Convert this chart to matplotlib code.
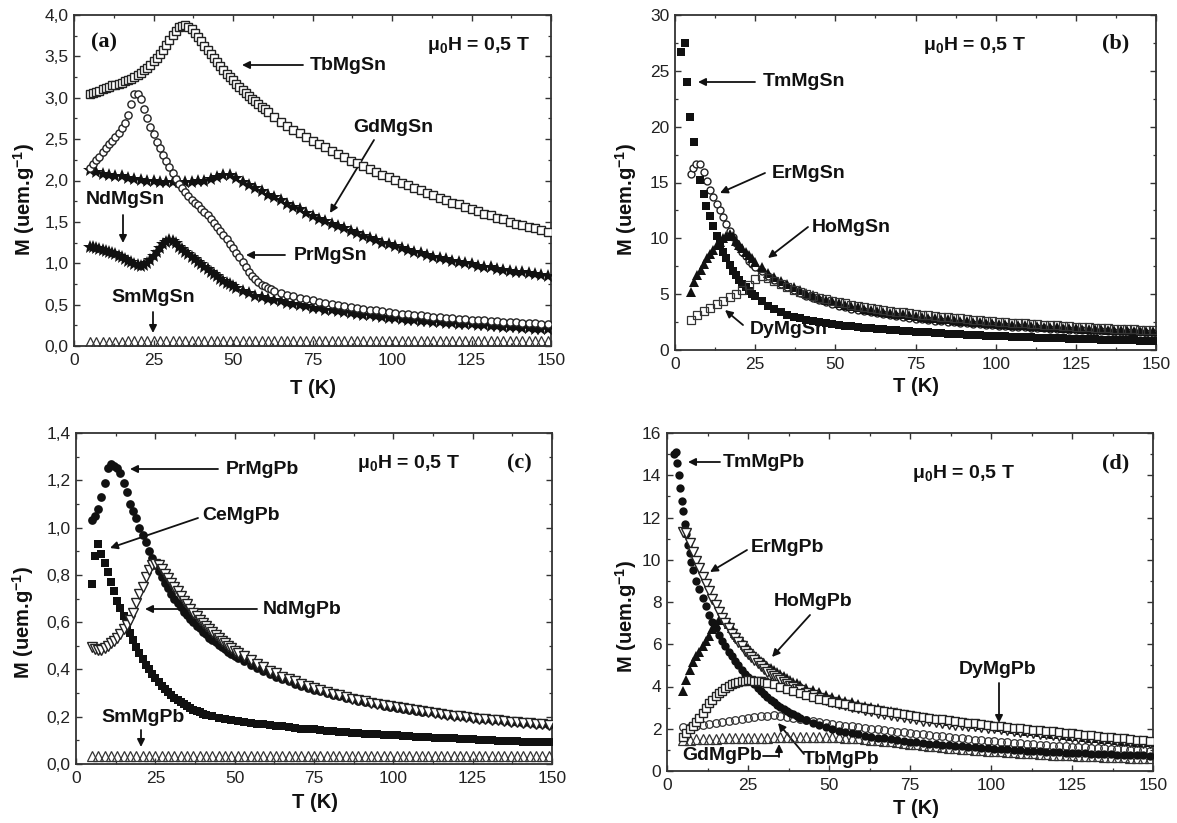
import sys
import numpy as np
import matplotlib
matplotlib.use("Agg")
import matplotlib.pyplot as plt
from matplotlib.ticker import MultipleLocator, FuncFormatter

plt.rcParams['font.family'] = ['Liberation Sans', 'DejaVu Sans']
plt.rcParams['mathtext.fontset'] = 'custom'
plt.rcParams['mathtext.rm'] = 'Liberation Sans:bold'
plt.rcParams['mathtext.it'] = 'Liberation Sans:bold'
plt.rcParams['mathtext.bf'] = 'Liberation Sans:bold'


def cat(*parts):
    return np.concatenate([np.asarray(p, dtype=float) for p in parts])

# ---------------- Panel (a): RMgSn ----------------
T_TB_A = cat(np.arange(5, 61), np.arange(61, 150, 2))
M_TB_A = [3.05, 3.06, 3.07, 3.08, 3.10, 3.12, 3.13, 3.15, 3.16, 3.17,
          3.18, 3.20, 3.21, 3.23, 3.25, 3.27, 3.30, 3.33, 3.36, 3.40,
          3.44, 3.48, 3.53, 3.58, 3.64, 3.70, 3.76, 3.81, 3.85, 3.87,
          3.88, 3.86, 3.83, 3.78, 3.73, 3.68, 3.63, 3.58, 3.53, 3.48,
          3.43, 3.38, 3.34, 3.29, 3.25, 3.21, 3.17, 3.13, 3.09, 3.06,
          3.02, 2.99, 2.96, 2.92, 2.89, 2.86,
          2.83, 2.77, 2.71, 2.66, 2.61, 2.57, 2.52, 2.48, 2.44, 2.40,
          2.36, 2.32, 2.28, 2.24, 2.21, 2.17, 2.14, 2.10, 2.07, 2.04,
          2.01, 1.97, 1.94, 1.91, 1.88, 1.85, 1.82, 1.79, 1.76, 1.73,
          1.71, 1.68, 1.65, 1.63, 1.60, 1.58, 1.55, 1.53, 1.50, 1.48,
          1.46, 1.44, 1.42, 1.40, 1.38]

T_PR_A = cat(np.arange(5, 63), np.arange(63, 150, 2))
M_PR_A = [2.15, 2.20, 2.25, 2.29, 2.34, 2.39, 2.44, 2.48, 2.53, 2.57,
          2.63, 2.70, 2.79, 2.92, 3.05, 3.05, 2.98, 2.87, 2.76, 2.65,
          2.56, 2.47, 2.39, 2.31, 2.23, 2.16, 2.09, 2.02, 1.96, 1.91,
          1.86, 1.81, 1.77, 1.73, 1.70, 1.66, 1.62, 1.58, 1.53, 1.49,
          1.44, 1.39, 1.34, 1.29, 1.23, 1.18, 1.12, 1.07, 1.01, 0.96,
          0.90, 0.85, 0.81, 0.77, 0.74, 0.72, 0.70, 0.685,
          0.67, 0.64, 0.62, 0.60, 0.58, 0.565, 0.55, 0.535, 0.52, 0.51,
          0.495, 0.485, 0.475, 0.46, 0.45, 0.44, 0.43, 0.42, 0.41, 0.40,
          0.39, 0.385, 0.375, 0.37, 0.36, 0.355, 0.35, 0.34, 0.335, 0.33,
          0.325, 0.32, 0.315, 0.31, 0.305, 0.30, 0.295, 0.29, 0.285, 0.28,
          0.28, 0.275, 0.27, 0.27]

T_GD_A = np.arange(5, 150, 2)
M_GD_A = [2.13, 2.10, 2.08, 2.07, 2.06, 2.05, 2.03, 2.02, 2.01, 2.00,
          1.99, 1.98, 1.98, 1.98, 1.98, 1.98, 1.98, 1.99, 2.00, 2.02,
          2.04, 2.07, 2.07, 2.03, 1.98, 1.95, 1.91, 1.87, 1.83, 1.80,
          1.76, 1.72, 1.68, 1.65, 1.61, 1.57, 1.54, 1.51, 1.48, 1.45,
          1.42, 1.39, 1.36, 1.33, 1.31, 1.28, 1.25, 1.23, 1.21, 1.18,
          1.16, 1.14, 1.12, 1.10, 1.08, 1.06, 1.05, 1.03, 1.01, 1.00,
          0.99, 0.97, 0.96, 0.95, 0.93, 0.92, 0.91, 0.90, 0.89, 0.88,
          0.87, 0.86, 0.85]

T_ND_A = cat(np.arange(5, 51), np.arange(51, 150, 2))
M_ND_A = [1.20, 1.20, 1.19, 1.17, 1.16, 1.15, 1.14, 1.12, 1.11, 1.09,
          1.07, 1.05, 1.03, 1.01, 0.99, 0.975, 0.97, 0.98, 1.00, 1.04,
          1.09, 1.14, 1.19, 1.23, 1.26, 1.28, 1.27, 1.24, 1.20, 1.17,
          1.14, 1.11, 1.08, 1.05, 1.02, 0.99, 0.955, 0.925, 0.895, 0.865,
          0.84, 0.815, 0.79, 0.765, 0.745, 0.72,
          0.70, 0.67, 0.64, 0.61, 0.59, 0.57, 0.555, 0.54, 0.525, 0.51,
          0.495, 0.48, 0.465, 0.455, 0.44, 0.43, 0.42, 0.41, 0.40, 0.39,
          0.38, 0.37, 0.36, 0.35, 0.34, 0.335, 0.33, 0.32, 0.31, 0.305,
          0.30, 0.29, 0.285, 0.28, 0.275, 0.27, 0.265, 0.26, 0.255, 0.25,
          0.245, 0.24, 0.235, 0.23, 0.225, 0.22, 0.215, 0.21, 0.205, 0.20]

T_SM_A = np.arange(5, 150, 2)
M_SM_A = [0.05, 0.05, 0.05, 0.05, 0.05, 0.05, 0.06, 0.06, 0.06, 0.06,
          0.065, 0.065, 0.06, 0.06, 0.06, 0.06,
          0.055, 0.055, 0.055, 0.055, 0.055, 0.055, 0.055, 0.055, 0.055, 0.055,
          0.055, 0.055, 0.055, 0.055, 0.055, 0.055, 0.055, 0.055, 0.055, 0.055,
          0.055, 0.055, 0.055, 0.055, 0.055, 0.055, 0.055, 0.055, 0.055, 0.055,
          0.055, 0.055, 0.055, 0.055, 0.055, 0.055, 0.055, 0.055, 0.055, 0.055,
          0.055, 0.055, 0.055, 0.055, 0.055, 0.055, 0.055, 0.055, 0.055, 0.055,
          0.055, 0.055, 0.055, 0.055, 0.055, 0.055, 0.055]

# ---------------- Panel (b): heavy RMgSn ----------------
T_TM_B = cat([2, 3, 3.7, 4.7, 5.8, 7.9, 8.9, 9.8, 10.9, 11.9],
             np.arange(13, 25), np.arange(25, 150, 2))
M_TM_B = [26.7, 27.5, 24.0, 20.9, 18.6, 15.2, 14.0, 12.9, 12.0, 11.1,
          10.2, 9.5, 8.8, 8.2, 7.6, 7.1, 6.7, 6.3, 5.9, 5.6, 5.3, 5.05,
          4.80, 4.38, 3.98, 3.65, 3.38, 3.16, 2.98, 2.83, 2.70, 2.59,
          2.48, 2.39, 2.31, 2.24, 2.17, 2.11, 2.05, 1.99, 1.94, 1.89,
          1.84, 1.80, 1.76, 1.72, 1.68, 1.64, 1.60, 1.57, 1.53, 1.50,
          1.47, 1.44, 1.41, 1.38, 1.35, 1.32, 1.29, 1.27, 1.24, 1.22,
          1.19, 1.17, 1.15, 1.13, 1.11, 1.09, 1.07, 1.05, 1.03, 1.01,
          1.00, 0.98, 0.96, 0.95, 0.93, 0.92, 0.90, 0.89, 0.87, 0.86,
          0.85, 0.84, 0.83]

T_ER_B = cat([5, 5.7, 6.5, 7.8, 8.9, 9.9, 10.9, 11.9],
             np.arange(13, 26), np.arange(27, 150, 2))
M_ER_B = [15.8, 16.3, 16.7, 16.7, 15.9, 15.1, 14.3, 13.7,
          13.1, 12.5, 11.9, 11.3, 10.7, 10.1, 9.6, 9.2, 8.8, 8.4, 8.0, 7.7, 7.4,
          7.1, 6.65, 6.3, 5.95, 5.65, 5.35, 5.1, 4.85, 4.65, 4.45,
          4.27, 4.1, 3.96, 3.82, 3.7, 3.58, 3.47, 3.37, 3.28, 3.19,
          3.11, 3.03, 2.96, 2.89, 2.82, 2.76, 2.70, 2.64, 2.58, 2.53,
          2.48, 2.43, 2.38, 2.34, 2.29, 2.25, 2.21, 2.17, 2.13, 2.10,
          2.06, 2.03, 2.0, 1.96, 1.93, 1.90, 1.87, 1.85, 1.82, 1.79,
          1.77, 1.74, 1.72, 1.70, 1.67, 1.65, 1.63, 1.61, 1.59, 1.57,
          1.55, 1.53]

T_HO_B = cat(np.arange(5, 25), np.arange(25, 150, 2))
M_HO_B = [5.2, 6.1, 6.7, 7.2, 7.7, 8.2, 8.6, 9.0, 9.4, 9.7,
          10.0, 10.25, 10.35, 10.2, 9.8, 9.4, 9.1, 8.8, 8.5, 8.2,
          7.9, 7.4, 6.9, 6.55, 6.2, 5.9, 5.6, 5.35, 5.1, 4.9,
          4.7, 4.5, 4.35, 4.2, 4.06, 3.94, 3.82, 3.71, 3.61, 3.51,
          3.42, 3.34, 3.26, 3.18, 3.11, 3.04, 2.98, 2.91, 2.85, 2.79,
          2.74, 2.68, 2.63, 2.58, 2.53, 2.49, 2.44, 2.40, 2.36, 2.32,
          2.28, 2.24, 2.21, 2.17, 2.14, 2.10, 2.07, 2.04, 2.01, 1.98,
          1.95, 1.92, 1.90, 1.87, 1.84, 1.82, 1.79, 1.77, 1.75, 1.72,
          1.70, 1.68, 1.66]

T_DY_B = np.arange(5, 150, 2)
M_DY_B = [2.7, 3.1, 3.5, 3.8, 4.1, 4.4, 4.75, 5.05, 5.4, 5.85,
          6.35, 6.6, 6.45, 6.2, 5.9, 5.65, 5.4, 5.2, 5.0, 4.85,
          4.7, 4.55, 4.42, 4.3, 4.18, 4.07, 3.96, 3.86, 3.77, 3.68,
          3.6, 3.52, 3.44, 3.37, 3.3, 3.23, 3.17, 3.11, 3.05, 2.99,
          2.93, 2.88, 2.83, 2.78, 2.73, 2.68, 2.63, 2.59, 2.54, 2.5,
          2.46, 2.42, 2.38, 2.34, 2.3, 2.27, 2.23, 2.2, 2.16, 2.13,
          2.1, 2.07, 2.04, 2.01, 1.98, 1.95, 1.92, 1.89, 1.87, 1.84,
          1.82, 1.79, 1.77]

# ---------------- Panel (c): light RMgPb ----------------
T_PR_C = cat(np.arange(5, 51), np.arange(51, 150, 2))
M_PR_C = [1.03, 1.05, 1.08, 1.13, 1.19, 1.25, 1.27, 1.26, 1.25, 1.23,
          1.19, 1.15, 1.10, 1.07, 1.04, 1.00, 0.97, 0.94, 0.90, 0.87,
          0.84, 0.815, 0.79, 0.765, 0.745, 0.72, 0.70, 0.68, 0.665, 0.645,
          0.63, 0.615, 0.60, 0.585, 0.575, 0.56, 0.55, 0.535, 0.525, 0.515,
          0.505, 0.495, 0.485, 0.475, 0.465, 0.458,
          0.45, 0.435, 0.42, 0.405, 0.395, 0.38, 0.37, 0.36, 0.35, 0.34,
          0.33, 0.322, 0.315, 0.307, 0.30, 0.293, 0.286, 0.28, 0.274, 0.268,
          0.262, 0.257, 0.252, 0.247, 0.242, 0.238, 0.234, 0.23, 0.226, 0.222,
          0.218, 0.214, 0.21, 0.207, 0.204, 0.201, 0.198, 0.195, 0.192, 0.189,
          0.186, 0.184, 0.181, 0.179, 0.176, 0.174, 0.172, 0.17, 0.168, 0.166]

T_CE_C = cat(np.arange(5, 41), np.arange(41, 150, 2))
M_CE_C = [0.76, 0.88, 0.93, 0.89, 0.85, 0.81, 0.77, 0.73, 0.69, 0.66,
          0.625, 0.59, 0.555, 0.525, 0.495, 0.47, 0.445, 0.42, 0.40, 0.38,
          0.362, 0.345, 0.33, 0.316, 0.303, 0.291, 0.28, 0.27, 0.261, 0.252,
          0.244, 0.237, 0.23, 0.224, 0.218, 0.213,
          0.208, 0.201, 0.196, 0.191, 0.187, 0.183, 0.179, 0.175, 0.171, 0.168,
          0.165, 0.162, 0.159, 0.156, 0.153, 0.15, 0.148, 0.146, 0.143, 0.141,
          0.139, 0.137, 0.135, 0.133, 0.131, 0.129, 0.127, 0.126, 0.124, 0.122,
          0.121, 0.119, 0.118, 0.116, 0.115, 0.113, 0.112, 0.111, 0.109, 0.108,
          0.107, 0.105, 0.104, 0.103, 0.102, 0.101, 0.099, 0.098, 0.097, 0.096,
          0.095, 0.094, 0.093, 0.092, 0.091]

T_ND_C = cat(np.arange(5, 51), np.arange(51, 150, 2))
M_ND_C = [0.495, 0.485, 0.484, 0.484, 0.49, 0.50, 0.51, 0.52, 0.535, 0.55,
          0.57, 0.59, 0.61, 0.64, 0.68, 0.72, 0.75, 0.79, 0.82, 0.84,
          0.845, 0.84, 0.825, 0.805, 0.785, 0.765, 0.75, 0.73, 0.71, 0.69,
          0.675, 0.657, 0.64, 0.625, 0.61, 0.597, 0.585, 0.572, 0.56, 0.547,
          0.535, 0.522, 0.51, 0.50, 0.49, 0.48,
          0.47, 0.455, 0.44, 0.425, 0.41, 0.395, 0.383, 0.37, 0.36, 0.35,
          0.34, 0.33, 0.322, 0.314, 0.306, 0.298, 0.291, 0.284, 0.277, 0.271,
          0.265, 0.26, 0.254, 0.249, 0.244, 0.239, 0.235, 0.231, 0.227, 0.223,
          0.219, 0.215, 0.211, 0.208, 0.205, 0.201, 0.198, 0.195, 0.192, 0.189,
          0.187, 0.184, 0.182, 0.179, 0.177, 0.175, 0.172, 0.17, 0.168, 0.166]

T_SM_C = np.arange(5, 150, 2)
M_SM_C = [0.032, 0.032, 0.033, 0.033, 0.033, 0.033, 0.034, 0.034, 0.034, 0.034,
          0.034, 0.034, 0.034, 0.034, 0.033, 0.033, 0.033, 0.033, 0.033, 0.033,
          0.033, 0.033, 0.033, 0.033, 0.033, 0.033, 0.033, 0.033, 0.033, 0.033,
          0.032, 0.032, 0.032, 0.032, 0.032, 0.032, 0.032, 0.032, 0.032, 0.032,
          0.032, 0.032, 0.032, 0.032, 0.032, 0.032, 0.032, 0.032, 0.032, 0.032,
          0.032, 0.032, 0.032, 0.032, 0.032, 0.032, 0.032, 0.032, 0.032, 0.032,
          0.032, 0.032, 0.032, 0.032, 0.032, 0.032, 0.032, 0.032, 0.032, 0.032,
          0.032, 0.032, 0.032]

# ---------------- Panel (d): RMgPb ----------------
T_TM_D = cat([2.2, 2.7, 3.1, 3.6, 4.1, 4.5, 5.0, 5.5, 6.0, 6.5, 7.0, 7.5, 8.0],
             np.arange(9, 41), np.arange(41, 150, 2))
M_TM_D = [15.0, 15.1, 14.6, 14.0, 13.4, 12.8, 12.3, 11.7, 11.2, 10.7, 10.3, 9.9, 9.5,
          9.0, 8.6, 8.2, 7.8, 7.4, 7.05, 6.75, 6.45, 6.15, 5.9,
          5.65, 5.45, 5.2, 5.0, 4.8, 4.6, 4.43, 4.26, 4.1, 3.94,
          3.78, 3.64, 3.5, 3.37, 3.25, 3.14, 3.03, 2.94, 2.85, 2.76,
          2.68, 2.6,
          2.53, 2.4, 2.28, 2.17, 2.07, 1.98, 1.91, 1.85, 1.79, 1.73,
          1.68, 1.63, 1.58, 1.54, 1.5, 1.46, 1.42, 1.39, 1.36, 1.33,
          1.30, 1.27, 1.24, 1.21, 1.19, 1.16, 1.14, 1.12, 1.10, 1.08,
          1.06, 1.04, 1.02, 1.0, 0.98, 0.97, 0.95, 0.93, 0.92, 0.90,
          0.89, 0.87, 0.86, 0.85, 0.83, 0.82, 0.81, 0.80, 0.79, 0.78,
          0.77, 0.76, 0.75, 0.74, 0.73]

T_ER_D = cat(np.arange(5, 41), np.arange(41, 150, 2))
M_ER_D = [11.3, 11.25, 10.8, 10.35, 9.95, 9.6, 9.2, 8.85, 8.5, 8.15,
          7.85, 7.55, 7.25, 7.0, 6.75, 6.5, 6.3, 6.1, 5.9, 5.7,
          5.55, 5.4, 5.25, 5.1, 4.95, 4.82, 4.7, 4.6, 4.5, 4.4,
          4.3, 4.21, 4.12, 4.04, 3.97, 3.9,
          3.83, 3.7, 3.58, 3.47, 3.37, 3.28, 3.19, 3.11, 3.03, 2.96,
          2.89, 2.82, 2.76, 2.7, 2.64, 2.59, 2.54, 2.49, 2.44, 2.39,
          2.35, 2.31, 2.27, 2.23, 2.2, 2.17, 2.14, 2.11, 2.08, 2.05,
          2.02, 1.98, 1.94, 1.9, 1.86, 1.83, 1.79, 1.76, 1.73, 1.7,
          1.67, 1.64, 1.61, 1.58, 1.55, 1.53, 1.5, 1.48, 1.45, 1.43,
          1.41, 1.38, 1.36, 1.34, 1.32]

T_HO_D = cat(np.arange(5, 41), np.arange(41, 150, 2))
M_HO_D = [3.8, 4.3, 4.8, 5.15, 5.45, 5.65, 5.9, 6.15, 6.4, 6.7,
          6.95, 7.15, 7.25, 7.15, 6.95, 6.75, 6.55, 6.35, 6.15, 5.95,
          5.8, 5.65, 5.5, 5.36, 5.22, 5.1, 4.98, 4.87, 4.77, 4.67,
          4.57, 4.48, 4.39, 4.31, 4.23, 4.15,
          4.08, 3.95, 3.83, 3.72, 3.61, 3.51, 3.42, 3.33, 3.25, 3.17,
          3.1, 3.03, 2.96, 2.9, 2.84, 2.78, 2.72, 2.67, 2.62, 2.57,
          2.52, 2.47, 2.43, 2.38, 2.34, 2.3, 2.26, 2.22, 2.19, 2.16,
          2.12, 2.08, 2.03, 1.99, 1.95, 1.91, 1.87, 1.84, 1.8, 1.77,
          1.73, 1.7, 1.67, 1.64, 1.61, 1.58, 1.55, 1.52, 1.5, 1.47,
          1.44, 1.42, 1.39, 1.37, 1.35]

T_DY_D = cat(np.arange(5, 31), np.arange(31, 150, 2))
M_DY_D = [1.6, 1.8, 1.98, 2.14, 2.33, 2.53, 2.75, 2.98, 3.2, 3.38,
          3.54, 3.68, 3.8, 3.92, 4.02, 4.1, 4.17, 4.22, 4.26, 4.28,
          4.29, 4.29, 4.28, 4.26, 4.24, 4.21,
          4.17, 4.1, 3.98, 3.87, 3.77, 3.67, 3.58, 3.5, 3.42, 3.35,
          3.28, 3.22, 3.16, 3.1, 3.04, 2.98, 2.93, 2.88, 2.83, 2.78,
          2.74, 2.69, 2.65, 2.6, 2.56, 2.52, 2.48, 2.44, 2.4, 2.36,
          2.33, 2.29, 2.26, 2.22, 2.19, 2.15, 2.12, 2.09, 2.05, 2.02,
          1.99, 1.96, 1.93, 1.9, 1.87, 1.84, 1.81, 1.78, 1.75, 1.72,
          1.69, 1.66, 1.63, 1.6, 1.57, 1.54, 1.51, 1.48, 1.46, 1.43]

T_TB_D = np.arange(5, 150, 2)
M_TB_D = [2.07, 2.1, 2.13, 2.17, 2.21, 2.25, 2.3, 2.35, 2.4, 2.45,
          2.5, 2.54, 2.58, 2.62, 2.65, 2.62, 2.56, 2.5, 2.45, 2.4,
          2.35, 2.31, 2.27, 2.23, 2.19, 2.15, 2.12, 2.08, 2.04, 2.0,
          1.97, 1.93, 1.9, 1.86, 1.83, 1.79, 1.76, 1.73, 1.7, 1.67,
          1.64, 1.61, 1.58, 1.55, 1.52, 1.49, 1.46, 1.43, 1.41, 1.38,
          1.35, 1.33, 1.31, 1.28, 1.26, 1.24, 1.22, 1.2, 1.18, 1.16,
          1.15, 1.13, 1.12, 1.1, 1.08, 1.07, 1.05, 1.04, 1.02, 1.01,
          1.0, 0.99, 0.97]

T_GD_D = np.arange(5, 150, 2)
M_GD_D = [1.47, 1.48, 1.5, 1.51, 1.52, 1.53, 1.54, 1.55, 1.55, 1.56,
          1.56, 1.57, 1.58, 1.58, 1.59, 1.6, 1.6, 1.6, 1.6, 1.6,
          1.6, 1.6, 1.6, 1.6, 1.6, 1.58, 1.56, 1.54, 1.52, 1.49,
          1.46, 1.43, 1.4, 1.37, 1.33, 1.3, 1.27, 1.23, 1.2, 1.17,
          1.14, 1.11, 1.08, 1.06, 1.03, 1.01, 0.99, 0.97, 0.95, 0.93,
          0.91, 0.89, 0.87, 0.85, 0.83, 0.81, 0.79, 0.78, 0.76, 0.75,
          0.74, 0.72, 0.71, 0.7, 0.69, 0.68, 0.66, 0.65, 0.64, 0.63,
          0.62, 0.61, 0.6]

X_TICKS = [0, 25, 50, 75, 100, 125, 150]

# ---------------- figure ----------------
W, H = 1177, 823
fig = plt.figure(figsize=(W / 100, H / 100), dpi=100)
fig.patch.set_facecolor('white')


def add_ax(l, r, t, b):
    return fig.add_axes([l / W, 1 - b / H, (r - l) / W, (b - t) / H])


ax_a = add_ax(74, 551, 15, 346)
ax_b = add_ax(675, 1156, 15, 350)
ax_c = add_ax(76, 552, 433, 764)
ax_d = add_ax(667, 1153, 433, 771)

comma = FuncFormatter(lambda v, p: ('%.1f' % v).replace('.', ','))
intf = FuncFormatter(lambda v, p: '%d' % round(v))


def style(ax, ymax, ymaj, ymin, fmt):
    ax.set_xlim(0, 150)
    ax.set_ylim(0, ymax)
    ax.set_xticks(X_TICKS)
    ax.xaxis.set_minor_locator(MultipleLocator(12.5))
    ax.yaxis.set_major_locator(MultipleLocator(ymaj))
    ax.yaxis.set_minor_locator(MultipleLocator(ymin))
    ax.yaxis.set_major_formatter(fmt)
    ax.tick_params(which='both', direction='in', top=True, right=True,
                   color='#333333', labelcolor='#222222', labelsize=12.5)
    ax.tick_params(which='major', length=4.5, width=1.0)
    ax.tick_params(which='minor', length=2.5, width=0.9)
    ax.tick_params(axis='x', pad=5)
    ax.tick_params(axis='y', pad=4)
    for s in ax.spines.values():
        s.set_linewidth(1.3)
        s.set_color('#333333')


style(ax_a, 4.0, 0.5, 0.25, comma)
style(ax_b, 30, 5, 2.5, intf)
style(ax_c, 1.4, 0.2, 0.1, comma)
style(ax_d, 16, 2, 1, intf)


def pts(ax, T, M, **kw):
    T = np.asarray(T, float)
    M = np.asarray(M, float)
    n = min(len(T), len(M))
    if len(T) != len(M):
        print('length mismatch', len(T), len(M), file=sys.stderr)
    ax.plot(T[:n], M[:n], ls='none', clip_on=True, **kw)


BLK = '#111111'
OPEN = dict(mfc='white', mec='#222222', mew=1.0)
HATCH = dict(mfc='none', mec='#333333', mew=0.9)

# panel a
pts(ax_a, T_SM_A, M_SM_A, marker='^', ms=7, zorder=3, **HATCH)
pts(ax_a, T_ND_A, M_ND_A, marker='*', ms=10, color=BLK, mew=0, zorder=3)
pts(ax_a, T_GD_A, M_GD_A, marker='*', ms=10.5, color=BLK, mew=0, zorder=3)
pts(ax_a, T_PR_A, M_PR_A, marker='o', ms=5.2, zorder=4, **OPEN)
pts(ax_a, T_TB_A, M_TB_A, marker='s', ms=5.2, zorder=4, **OPEN)

# panel b
pts(ax_b, T_ER_B, M_ER_B, marker='o', ms=5, zorder=3, **OPEN)
pts(ax_b, T_TM_B, M_TM_B, marker='s', ms=6, color=BLK, mew=0, zorder=4)
pts(ax_b, T_HO_B, M_HO_B, marker='^', ms=7, color=BLK, mew=0, zorder=4)
pts(ax_b, T_DY_B, M_DY_B, marker='s', ms=5.5, zorder=5, **HATCH)

# panel c
pts(ax_c, T_SM_C, M_SM_C, marker='^', ms=7, zorder=3, **HATCH)
pts(ax_c, T_CE_C, M_CE_C, marker='s', ms=6, color=BLK, mew=0, zorder=3)
pts(ax_c, T_PR_C, M_PR_C, marker='o', ms=6.3, color=BLK, mew=0, zorder=3)
pts(ax_c, T_ND_C, M_ND_C, marker='v', ms=6.5, zorder=4, **OPEN)

# panel d
pts(ax_d, T_GD_D, M_GD_D, marker='^', ms=6.5, zorder=3, **HATCH)
pts(ax_d, T_TB_D, M_TB_D, marker='o', ms=5.5, zorder=3, **HATCH)
pts(ax_d, T_TM_D, M_TM_D, marker='o', ms=6, color=BLK, mew=0, zorder=4)
pts(ax_d, T_HO_D, M_HO_D, marker='^', ms=7, color=BLK, mew=0, zorder=4)
pts(ax_d, T_ER_D, M_ER_D, marker='v', ms=7.5, zorder=4, **OPEN)
pts(ax_d, T_DY_D, M_DY_D, marker='s', ms=5.5, zorder=5, **OPEN)


# ---------------- text & arrows (pixel positions, top-left origin) ----------------
def ft(x, y, s, size=14, weight='bold', family=None, **kw):
    kw.setdefault('ha', 'center')
    kw.setdefault('va', 'center')
    if family is not None:
        kw['family'] = family
    fig.text(x / W, 1 - y / H, s, fontsize=size, fontweight=weight, color='#111111', **kw)


def arrow(ax, x1, y1, x2, y2, head=True):
    ax.annotate('', xy=(x2, H - y2), xytext=(x1, H - y1),
                xycoords='figure pixels', textcoords='figure pixels',
                annotation_clip=False, zorder=2,
                arrowprops=dict(arrowstyle='-|>' if head else '-', color='#111111',
                                lw=1.3, mutation_scale=11, shrinkA=0, shrinkB=0))


MU = 'μ$_{0}$H = 0,5 T'
YL = 'M (uem.g$^{-1}$)'
SERIF = ['Liberation Serif', 'DejaVu Serif']

# panel a
ft(104, 42, '(a)', size=16, family=SERIF)
ft(478, 46, MU)
ft(348, 65, 'TbMgSn');  arrow(ax_a, 303, 65, 242, 65)
ft(393, 127, 'GdMgSn'); arrow(ax_a, 374, 140, 330, 213)
ft(125, 200, 'NdMgSn'); arrow(ax_a, 123, 215, 123, 243)
ft(331, 255, 'PrMgSn'); arrow(ax_a, 285, 255, 246, 255)
ft(153, 298, 'SmMgSn'); arrow(ax_a, 153, 312, 153, 333)
ft(24, 200, YL, size=14.5, rotation=90)
ft(313, 389, 'T (K)', size=14.5)

# panel b
ft(974, 46, MU)
ft(1116, 43, '(b)', size=16, family=SERIF)
ft(804, 82, 'TmMgSn'); arrow(ax_b, 755, 82, 698, 82)
ft(809, 173, 'ErMgSn'); arrow(ax_b, 765, 173, 720, 193)
ft(851, 227, 'HoMgSn'); arrow(ax_b, 808, 227, 768, 258)
ft(789, 330, 'DyMgSn'); arrow(ax_b, 743, 325, 725, 310)
ft(626, 200, YL, size=14.5, rotation=90)
ft(916, 387, 'T (K)', size=14.5)

# panel c
ft(408, 464, MU)
ft(519, 463, '(c)', size=16, family=SERIF)
ft(262, 469, 'PrMgPb'); arrow(ax_c, 218, 469, 130, 469)
ft(241, 515, 'CeMgPb'); arrow(ax_c, 198, 518, 110, 548)
ft(302, 609, 'NdMgPb'); arrow(ax_c, 257, 609, 145, 609)
ft(143, 717, 'SmMgPb'); arrow(ax_c, 141, 730, 141, 747)
ft(23, 623, YL, size=14.5, rotation=90)
ft(315, 803, 'T (K)', size=14.5)

# panel d
ft(963, 474, MU)
ft(1116, 463, '(d)', size=16, family=SERIF)
ft(764, 462, 'TmMgPb'); arrow(ax_d, 720, 462, 688, 462)
ft(787, 548, 'ErMgPb'); arrow(ax_d, 747, 550, 710, 572)
ft(813, 602, 'HoMgPb'); arrow(ax_d, 810, 615, 772, 657)
ft(998, 669, 'DyMgPb'); arrow(ax_d, 999, 683, 999, 723)
ft(722, 756, 'GdMgPb'); arrow(ax_d, 763, 756, 779, 756, head=False)
arrow(ax_d, 779, 757, 779, 744)
ft(841, 759, 'TbMgPb'); arrow(ax_d, 804, 754, 778, 723)
ft(626, 617, YL, size=14.5, rotation=90)
ft(916, 808, 'T (K)', size=14.5)

fig.savefig('out.png', dpi=100, facecolor='white')
